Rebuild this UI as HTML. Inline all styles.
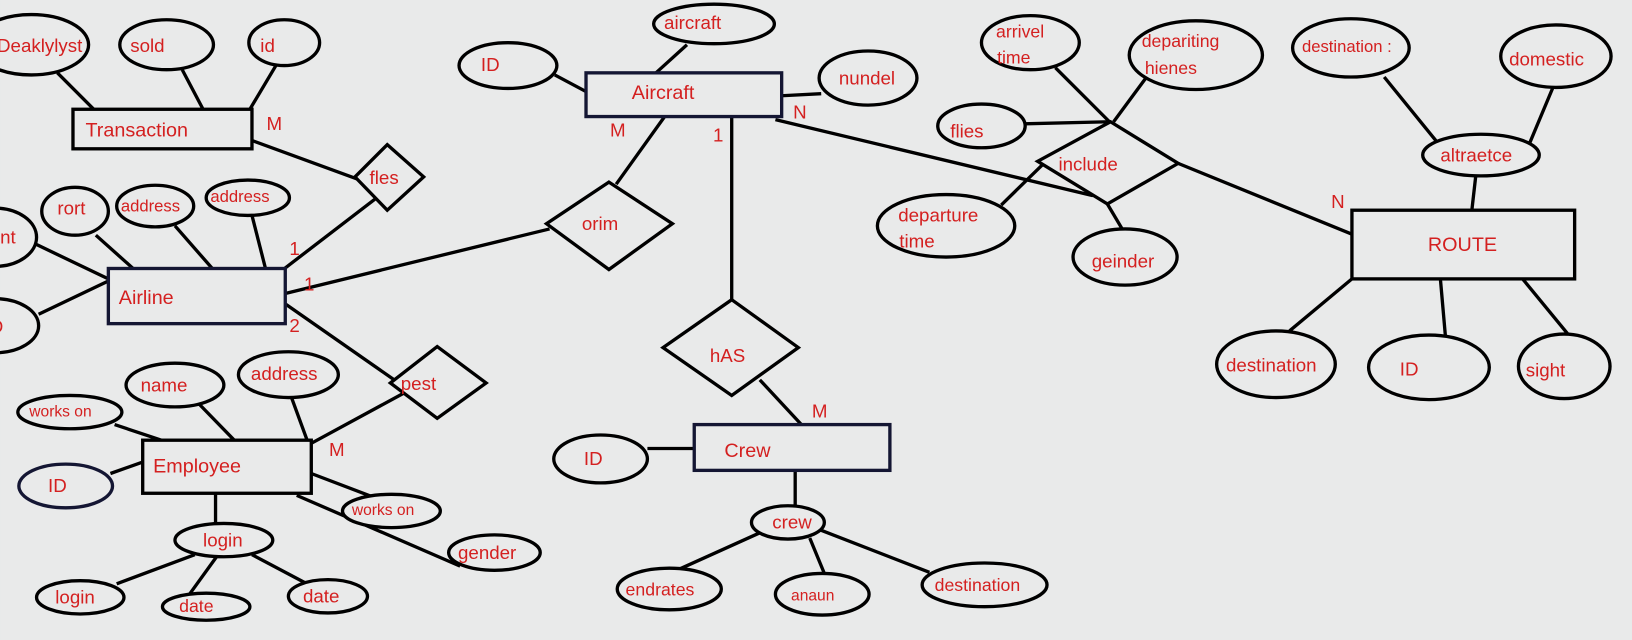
<!DOCTYPE html>
<html><head><meta charset="utf-8"><style>
html,body{margin:0;padding:0;background:#e9eaea;}
svg{display:block}
text{font-family:"Liberation Sans","DejaVu Sans",sans-serif;fill:#d42020;}
</style></head><body>
<svg width="1632" height="640" viewBox="0 0 1568 615" xmlns="http://www.w3.org/2000/svg">
<rect x="0" y="0" width="1568" height="615" fill="#e9eaea"/>
<g stroke="#000" stroke-width="3.2" fill="none">
<!-- lines -->
<line x1="55" y1="70" x2="90" y2="105"/>
<line x1="175" y1="67" x2="195" y2="105"/>
<line x1="265" y1="63" x2="240" y2="105"/>
<line x1="242" y1="135" x2="343" y2="172"/>
<line x1="362" y1="190" x2="272" y2="259"/>
<line x1="35" y1="235" x2="104" y2="268"/>
<line x1="37" y1="302" x2="104" y2="270"/>
<line x1="92" y1="226" x2="130" y2="260"/>
<line x1="168" y1="217" x2="210" y2="265"/>
<line x1="242" y1="207" x2="255" y2="258"/>
<line x1="274" y1="282" x2="528" y2="220"/>
<line x1="592" y1="177" x2="640" y2="110"/>
<line x1="274" y1="292" x2="393" y2="375"/>
<line x1="393" y1="375" x2="299" y2="426"/>
<line x1="110" y1="408" x2="155" y2="423"/>
<line x1="190" y1="387" x2="225" y2="423"/>
<line x1="280" y1="382" x2="295" y2="423"/>
<line x1="106" y1="455" x2="137" y2="444"/>
<line x1="207" y1="474" x2="207" y2="504"/>
<line x1="299" y1="455" x2="362" y2="479"/>
<line x1="285" y1="476" x2="442" y2="544"/>
<line x1="112" y1="561" x2="187" y2="533"/>
<line x1="182" y1="571" x2="208" y2="535"/>
<line x1="293" y1="560" x2="242" y2="533"/>
<line x1="660" y1="43" x2="628" y2="72"/>
<line x1="533" y1="72" x2="563" y2="88"/>
<line x1="751" y1="92" x2="789" y2="90"/>
<line x1="745" y1="115" x2="1050" y2="188"/>
<line x1="703" y1="105" x2="703" y2="289"/>
<line x1="730" y1="365" x2="770" y2="408"/>
<line x1="622" y1="431" x2="667" y2="431"/>
<line x1="764" y1="452" x2="764" y2="488"/>
<line x1="730" y1="512" x2="648" y2="549"/>
<line x1="778" y1="517" x2="792" y2="551"/>
<line x1="785" y1="508" x2="893" y2="550"/>
<line x1="1014" y1="65" x2="1066" y2="117"/>
<line x1="1101" y1="75" x2="1070" y2="117"/>
<line x1="984" y1="119" x2="1066" y2="117"/>
<line x1="962" y1="197" x2="1005" y2="155"/>
<line x1="1080" y1="223" x2="1064" y2="196"/>
<line x1="1132" y1="157" x2="1299" y2="225"/>
<line x1="1330" y1="74" x2="1382" y2="138"/>
<line x1="1493" y1="82" x2="1470" y2="137"/>
<line x1="1418" y1="169" x2="1414" y2="204"/>
<line x1="1299" y1="268" x2="1239" y2="318"/>
<line x1="1384" y1="268" x2="1389" y2="325"/>
<line x1="1463" y1="268" x2="1509" y2="324"/>
<!-- diamonds -->
<polygon points="372,139 407,170 372,202 341,170" fill="#e9eaea"/>
<polygon points="585,175 646,215 585,259 525,215" fill="#e9eaea"/>
<polygon points="420,333 467,368 420,402 375,368" fill="#e9eaea"/>
<polygon points="703,288 767,334 703,380 637,334" fill="#e9eaea"/>
<polygon points="1067,117 1132,157 1064,196 997,155" fill="#e9eaea"/>
<!-- rects -->
<rect x="70" y="105" width="172" height="38" fill="#e9eaea"/>
<rect x="104" y="258" width="170" height="53" fill="#e9eaea" stroke="#141633"/>
<rect x="137" y="423" width="162" height="51" fill="#e9eaea"/>
<rect x="563" y="70" width="188" height="42" fill="#e9eaea" stroke="#141633"/>
<rect x="667" y="408" width="188" height="44" fill="#e9eaea" stroke="#141633"/>
<rect x="1299" y="202" width="214" height="66" fill="#e9eaea"/>
<!-- ellipses -->
<ellipse cx="30" cy="43" rx="55" ry="29" fill="#e9eaea"/>
<ellipse cx="160" cy="43" rx="45" ry="24" fill="#e9eaea"/>
<ellipse cx="273" cy="41" rx="34" ry="22" fill="#e9eaea"/>
<ellipse cx="-5" cy="228" rx="40" ry="28" fill="#e9eaea"/>
<ellipse cx="-5" cy="313" rx="42" ry="26" fill="#e9eaea"/>
<ellipse cx="72" cy="203" rx="32" ry="23" fill="#e9eaea"/>
<ellipse cx="149" cy="198" rx="37" ry="20" fill="#e9eaea"/>
<ellipse cx="238" cy="190" rx="40" ry="17" fill="#e9eaea"/>
<ellipse cx="67" cy="396" rx="50" ry="16" fill="#e9eaea"/>
<ellipse cx="168" cy="370" rx="47" ry="21" fill="#e9eaea"/>
<ellipse cx="277" cy="360" rx="48" ry="22" fill="#e9eaea"/>
<ellipse cx="63" cy="467" rx="45" ry="21" fill="#e9eaea" stroke="#141633"/>
<ellipse cx="215" cy="519" rx="47" ry="16" fill="#e9eaea"/>
<ellipse cx="376" cy="491" rx="47" ry="16" fill="#e9eaea"/>
<ellipse cx="475" cy="531" rx="44" ry="17" fill="#e9eaea"/>
<ellipse cx="77" cy="574" rx="42" ry="16" fill="#e9eaea"/>
<ellipse cx="198" cy="583" rx="42" ry="13" fill="#e9eaea"/>
<ellipse cx="315" cy="573" rx="38" ry="16" fill="#e9eaea"/>
<ellipse cx="686" cy="23" rx="58" ry="19" fill="#e9eaea"/>
<ellipse cx="488" cy="63" rx="47" ry="22" fill="#e9eaea"/>
<ellipse cx="834" cy="75" rx="47" ry="26" fill="#e9eaea"/>
<ellipse cx="577" cy="441" rx="45" ry="23" fill="#e9eaea"/>
<ellipse cx="757" cy="502" rx="35" ry="16" fill="#e9eaea"/>
<ellipse cx="643" cy="566" rx="50" ry="20" fill="#e9eaea"/>
<ellipse cx="790" cy="571" rx="45" ry="20" fill="#e9eaea"/>
<ellipse cx="946" cy="562" rx="60" ry="21" fill="#e9eaea"/>
<ellipse cx="990" cy="41" rx="47" ry="26" fill="#e9eaea"/>
<ellipse cx="1149" cy="53" rx="64" ry="33" fill="#e9eaea"/>
<ellipse cx="943" cy="121" rx="42" ry="21" fill="#e9eaea"/>
<ellipse cx="909" cy="217" rx="66" ry="30" fill="#e9eaea"/>
<ellipse cx="1081" cy="247" rx="50" ry="27" fill="#e9eaea"/>
<ellipse cx="1298" cy="46" rx="56" ry="28" fill="#e9eaea"/>
<ellipse cx="1495" cy="54" rx="53" ry="30" fill="#e9eaea"/>
<ellipse cx="1423" cy="149" rx="56" ry="20" fill="#e9eaea"/>
<ellipse cx="1226" cy="350" rx="57" ry="32" fill="#e9eaea"/>
<ellipse cx="1373" cy="353" rx="58" ry="31" fill="#e9eaea"/>
<ellipse cx="1503" cy="352" rx="44" ry="31" fill="#e9eaea"/>
</g>
<g font-size="18">
<text x="-3" y="50">Deaklylyst</text>
<text x="125" y="50">sold</text>
<text x="250" y="50">id</text>
<text x="82" y="131" font-size="19">Transaction</text>
<text x="256" y="125">M</text>
<text x="355" y="177">fles</text>
<text x="-10" y="234">unt</text>
<text x="-10" y="320">D</text>
<text x="55" y="206">rort</text>
<text x="116" y="203" font-size="16">address</text>
<text x="202" y="194" font-size="16">address</text>
<text x="278" y="245">1</text>
<text x="292" y="279">1</text>
<text x="278" y="319">2</text>
<text x="114" y="292" font-size="19">Airline</text>
<text x="559" y="221">orim</text>
<text x="385" y="375">pest</text>
<text x="316" y="438">M</text>
<text x="28" y="400" font-size="15">works on</text>
<text x="135" y="376">name</text>
<text x="241" y="365">address</text>
<text x="46" y="473">ID</text>
<text x="147" y="454" font-size="19">Employee</text>
<text x="195" y="525">login</text>
<text x="338" y="495" font-size="15">works on</text>
<text x="440" y="537">gender</text>
<text x="53" y="580">login</text>
<text x="172" y="588" font-size="17">date</text>
<text x="291" y="579">date</text>
<text x="638" y="28">aircraft</text>
<text x="462" y="68">ID</text>
<text x="607" y="95" font-size="19">Aircraft</text>
<text x="806" y="81">nundel</text>
<text x="762" y="114">N</text>
<text x="586" y="131">M</text>
<text x="685" y="136">1</text>
<text x="682" y="348">hAS</text>
<text x="780" y="401">M</text>
<text x="561" y="447">ID</text>
<text x="696" y="439" font-size="19">Crew</text>
<text x="742" y="508">crew</text>
<text x="601" y="572" font-size="17">endrates</text>
<text x="760" y="577" font-size="15">anaun</text>
<text x="898" y="568" font-size="17">destination</text>
<text x="957" y="36" font-size="17">arrivel</text>
<text x="958" y="61" font-size="17">time</text>
<text x="1097" y="45" font-size="17">depariting</text>
<text x="1100" y="71" font-size="17">hienes</text>
<text x="913" y="132">flies</text>
<text x="1017" y="164">include</text>
<text x="863" y="213">departure</text>
<text x="864" y="238">time</text>
<text x="1049" y="257">geinder</text>
<text x="1279" y="200">N</text>
<text x="1251" y="50" font-size="16">destination :</text>
<text x="1450" y="63">domestic</text>
<text x="1384" y="155">altraetce</text>
<text x="1372" y="241" font-size="19">ROUTE</text>
<text x="1178" y="357">destination</text>
<text x="1345" y="361">ID</text>
<text x="1466" y="362">sight</text>
</g>
</svg>
</body></html>
